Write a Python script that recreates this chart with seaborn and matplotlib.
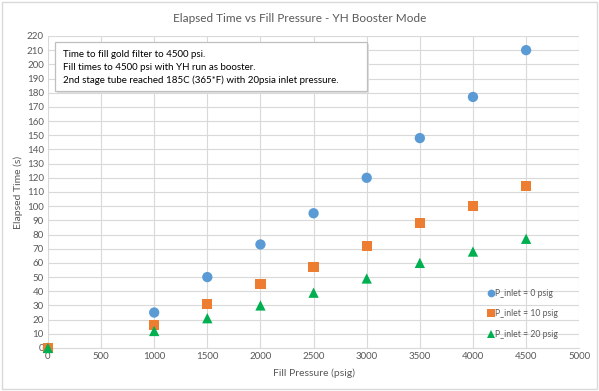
import pandas as pd
import matplotlib.pyplot as plt
import seaborn as sns
from matplotlib.patches import FancyBboxPatch, Rectangle

# Data
fill_pressure = [0, 1000, 1500, 2000, 2500, 3000, 3500, 4000, 4500]
t_inlet_0 = [0, 25, 50, 73, 95, 120, 148, 177, 210]
t_inlet_10 = [0, 16, 31, 45, 57, 72, 88, 100, 114]
t_inlet_20 = [0, 12, 21, 30, 39, 49, 60, 68, 77]
series_names = ["P_inlet = 0 psig", "P_inlet = 10 psig", "P_inlet = 20 psig"]

rows = []
for name, vals in zip(series_names, [t_inlet_0, t_inlet_10, t_inlet_20]):
    for p, t in zip(fill_pressure, vals):
        rows.append({"Fill Pressure (psig)": p, "Elapsed Time (s)": t, "Series": name})
df = pd.DataFrame(rows)

sns.set_style("white")
plt.rcParams["font.family"] = ["Lato", "DejaVu Sans"]
gray = "#595959"

fig = plt.figure(figsize=(5.99, 3.91), dpi=100)
ax = fig.add_axes([0.080, 0.110, 0.887, 0.798])

colors = {series_names[0]: "#5B9BD5", series_names[1]: "#ED7D31", series_names[2]: "#00B050"}
markers = {series_names[0]: "o", series_names[1]: "s", series_names[2]: "^"}
sns.scatterplot(data=df, x="Fill Pressure (psig)", y="Elapsed Time (s)", hue="Series",
                style="Series", palette=colors, markers=markers, s=55, linewidth=0,
                ax=ax, zorder=3, clip_on=False)

ax.set_xlim(0, 5000)
ax.set_ylim(0, 220)
ax.set_xticks(range(0, 5001, 500))
ax.set_yticks(range(0, 221, 10))
ax.grid(True, color="#D9D9D9", linewidth=0.8)
ax.set_axisbelow(True)
for side in ["top", "right", "left"]:
    ax.spines[side].set_visible(False)
ax.spines["bottom"].set_color("#D9D9D9")
ax.tick_params(axis="both", labelsize=7, colors=gray, length=0, pad=3)
ax.set_xlabel("Fill Pressure (psig)", fontsize=7.5, color=gray, labelpad=5)
ax.set_ylabel("Elapsed Time (s)", fontsize=7.5, color=gray, labelpad=3)

fig.suptitle("Elapsed Time vs Fill Pressure - YH Booster Mode", fontsize=8.5, color=gray, y=0.968)

leg = ax.legend(loc="lower right", bbox_to_anchor=(0.975, 0.005), frameon=False,
                fontsize=6.2, labelspacing=1.3, handletextpad=0.05, markerscale=0.75,
                handlelength=1.0)
for txt in leg.get_texts():
    txt.set_color(gray)

# annotation text box
ax.add_patch(Rectangle((0.017, 0.818), 0.588, 0.157, transform=ax.transAxes,
                       facecolor="#E0E0E0", edgecolor="none", zorder=4))
ax.add_patch(Rectangle((0.013, 0.824), 0.588, 0.157, transform=ax.transAxes,
                       facecolor="white", edgecolor="#BFBFBF", linewidth=0.9, zorder=5))
note = ("Time to fill gold filter to 4500 psi.\n"
        "Fill times to 4500 psi with YH run as booster.\n"
        "2nd stage tube reached 185C (365*F) with 20psia inlet pressure.")
ax.text(0.028, 0.955, note, transform=ax.transAxes, fontsize=7.0, color="black",
        va="top", ha="left", linespacing=1.5, zorder=6)

# outer chart border
fig.patches.append(FancyBboxPatch((0.004, 0.006), 0.992, 0.988, boxstyle="square,pad=0",
                                  transform=fig.transFigure, facecolor="none",
                                  edgecolor="#D9D9D9", linewidth=1))

fig.savefig("out.png", dpi=100)
